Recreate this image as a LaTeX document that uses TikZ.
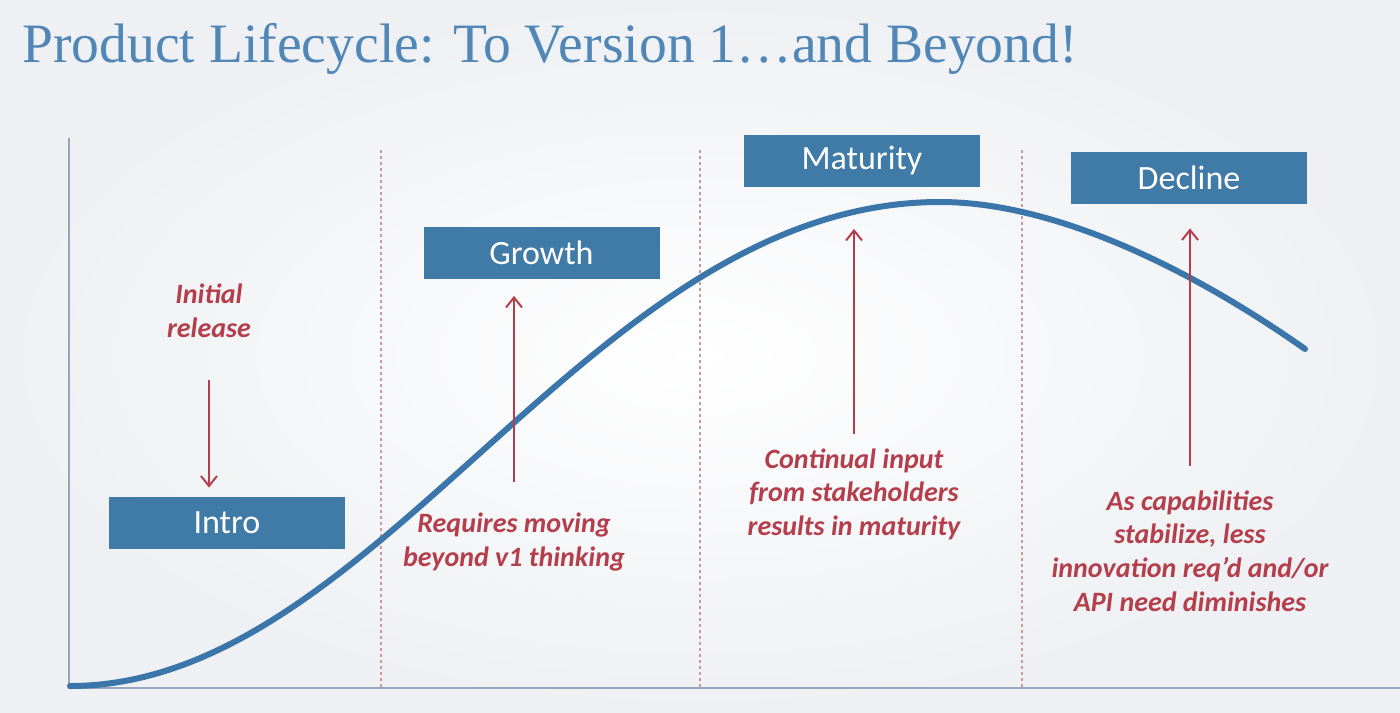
\documentclass[tikz,border=0pt]{standalone}
\usepackage{fontspec}
\setmainfont{Liberation Serif}
\newfontfamily\carl{Carlito}
\usetikzlibrary{arrows.meta}
\definecolor{titleblue}{RGB}{80,135,183}
\definecolor{boxblue}{RGB}{64,122,166}
\definecolor{curveblue}{RGB}{58,118,170}
\definecolor{notered}{RGB}{180,62,75}
\definecolor{axisgray}{RGB}{150,165,185}
\definecolor{dashred}{RGB}{205,150,160}
\definecolor{bgedge}{RGB}{238,240,243}
\begin{document}
\begin{tikzpicture}[x=0.5pt,y=-0.5pt,
 phase/.style={fill=boxblue, text=white, minimum width=118pt, minimum height=26pt, inner sep=0pt, font=\carl\fontsize{17}{20}\selectfont},
 note/.style={text=notered, align=center, inner sep=0pt, font=\carl\bfseries\itshape\fontsize{14}{16.8}\selectfont},
 arr/.style={draw=notered, line width=1pt, -{Straight Barb[length=5pt,width=8pt]}},
 divider/.style={draw=dashred, line width=0.8pt, dash pattern=on 1.5pt off 1.5pt},
 axis/.style={draw=axisgray, line width=1.1pt},
 curve/.style={draw=curveblue, line width=3pt, line cap=round}]
\useasboundingbox (0,0) rectangle (1400,712);
\shade[inner color=white, outer color=bgedge] (0,0) rectangle (1400,712);

% title
\node[anchor=base west, text=titleblue, font=\fontsize{27.8}{30}\selectfont, inner sep=0pt] (title) at (22,62) {Product Lifecycle: To Version 1…and Beyond!};

% axes and dividers
\draw[divider] (381,150) -- (381,688);
\draw[divider] (700,150) -- (700,688);
\draw[divider] (1022,150) -- (1022,688);
\draw[axis] (69,138) -- (69,688) -- (1400,688);

% curve
\draw[curve] (70,686) .. controls (380,686) and (590,202) .. (940,202)
             .. controls (1060,202) and (1200,275) .. (1305,349);

% phase boxes
\node[phase] (intro) at (227,523) {Intro};
\node[phase] (growth) at (541.5,252.5) {Growth};
\node[phase] (maturity) at (862,160.5) {Maturity};
\node[phase] (decline) at (1189,178) {Decline};

% notes
\node[note] (initial) at (209,311) {Initial\\release};
\node[note] (requires) at (514,542) {Requires moving\\beyond v1 thinking};
\node[note] (continual) at (854,494) {Continual input\\from stakeholders\\results in maturity};
\node[note] (capab) at (1190,551) {As capabilities\\stabilize, less\\innovation req’d and/or\\API need diminishes};

% arrows
\draw[arr, shorten <=21pt, shorten >=4.5pt] (initial.south) -- (initial.south |- intro.north);
\draw[arr, shorten <=15.5pt, shorten >=8.5pt] (requires.north) -- (requires.north |- growth.south);
\draw[arr, shorten <=7pt, shorten >=21pt] (continual.north) -- (continual.north |- maturity.south);
\draw[arr, shorten <=12pt, shorten >=12pt] (capab.north) -- (capab.north |- decline.south);
\end{tikzpicture}
\end{document}
